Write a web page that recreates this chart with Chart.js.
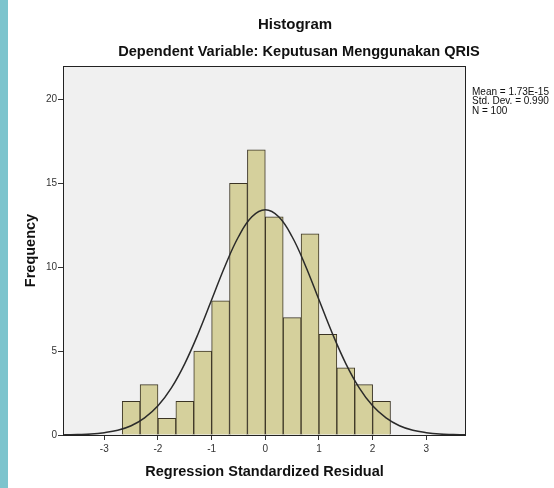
<!DOCTYPE html>
<html>
<head>
<meta charset="utf-8">
<script src="https://cdn.jsdelivr.net/npm/chart.js@4/dist/chart.umd.min.js"></script>
<style>
  html, body { margin: 0; padding: 0; background: #fff; }
  canvas { display: block; }
</style>
</head>
<body>
<canvas id="hist" width="554" height="488"></canvas>
<script>
// histogram bins (centre of each 1/3-wide bin) and counts
const binCenters = [-2.5, -2.1667, -1.8333, -1.5, -1.1667, -0.8333, -0.5, -0.1667,
  0.1667, 0.5, 0.8333, 1.1667, 1.5, 1.8333, 2.1667];
const frequencies = [2, 3, 1, 2, 5, 8, 15, 17, 13, 7, 12, 6, 4, 3, 2];

// normal curve
const curveX = [-3.75, -3.5, -3.25, -3, -2.75, -2.5, -2.25, -2, -1.75, -1.5, -1.25, -1,
  -0.75, -0.5, -0.25, 0, 0.25, 0.5, 0.75, 1, 1.25, 1.5, 1.75, 2, 2.25, 2.5, 2.75, 3,
  3.25, 3.5, 3.75];
const curveY = [0.01, 0.03, 0.06, 0.14, 0.28, 0.55, 1.02, 1.74, 2.81, 4.26, 6.05, 8.06,
  10.08, 11.82, 13.01, 13.43, 13.01, 11.82, 10.08, 8.06, 6.05, 4.26, 2.81, 1.74, 1.02,
  0.55, 0.28, 0.14, 0.06, 0.03, 0.01];

const xTicks = [-3, -2, -1, 0, 1, 2, 3];
const yTicks = [0, 5, 10, 15, 20];
const statsLines = ["Mean = 1.73E-15", "Std. Dev. = 0.990", "N = 100"];

const FONT = "'Liberation Sans', Arial, sans-serif";

const decor = {
  id: "decor",
  beforeDraw(chart) {
    const { ctx, chartArea: a } = chart;
    ctx.save();
    ctx.fillStyle = "#7cc4cd";
    ctx.fillRect(0, 0, 8, chart.height);
    ctx.fillStyle = "#f0f0f0";
    ctx.fillRect(a.left, a.top, a.right - a.left, a.bottom - a.top);
    ctx.restore();
  },
  afterDraw(chart) {
    const { ctx, chartArea: a } = chart;
    ctx.save();
    ctx.strokeStyle = "#222";
    ctx.lineWidth = 1;
    ctx.strokeRect(a.left + 0.5, a.top + 0.5, a.right - a.left - 1, a.bottom - a.top);

    ctx.fillStyle = "#111";
    ctx.textAlign = "center";
    ctx.textBaseline = "middle";
    ctx.font = "bold 15px " + FONT;
    ctx.fillText("Histogram", 295, 25);
    ctx.font = "bold 14.6px " + FONT;
    ctx.fillText("Dependent Variable: Keputusan Menggunakan QRIS", 299, 52);

    ctx.textAlign = "left";
    ctx.font = "10px " + FONT;
    statsLines.forEach((t, i) => ctx.fillText(t, a.right + 6, 92 + i * 9.5));
    ctx.restore();
  }
};

new Chart(document.getElementById("hist"), {
  data: {
    datasets: [
      {
        type: "line",
        data: curveX.map((x, i) => ({ x, y: curveY[i] })),
        borderColor: "#2a2a2a",
        borderWidth: 1.5,
        pointRadius: 0,
        tension: 0.4,
        fill: false,
        order: 0
      },
      {
        type: "bar",
        data: binCenters.map((x, i) => ({ x, y: frequencies[i] })),
        backgroundColor: "#d5d09c",
        borderColor: "#3b3424",
        borderWidth: 1,
        barPercentage: 1,
        categoryPercentage: 1,
        order: 1
      }
    ]
  },
  options: {
    responsive: false,
    animation: false,
    layout: { padding: { left: 10, right: 88, top: 66, bottom: 0 } },
    plugins: {
      legend: { display: false },
      tooltip: { enabled: false }
    },
    scales: {
      x: {
        type: "linear",
        min: -3.77,
        max: 3.74,
        offset: false,
        afterBuildTicks: s => { s.ticks = xTicks.map(v => ({ value: v })); },
        afterFit: s => { s.height = 53; },
        grid: { drawOnChartArea: false, offset: false, tickLength: 5, color: "#333" },
        border: { display: false },
        ticks: { color: "#333", font: { family: FONT, size: 10 }, padding: 3 },
        title: {
          display: true,
          text: "Regression Standardized Residual",
          color: "#111",
          font: { family: FONT, size: 14.5, weight: "bold" },
          padding: { top: 0, bottom: 7 }
        }
      },
      y: {
        min: 0,
        max: 22,
        afterBuildTicks: s => { s.ticks = yTicks.map(v => ({ value: v })); },
        afterFit: s => { s.width = 53; },
        grid: { drawOnChartArea: false, tickLength: 5, color: "#333" },
        border: { display: false },
        ticks: { color: "#333", font: { family: FONT, size: 10 }, padding: 1 },
        title: {
          display: true,
          text: "Frequency",
          color: "#111",
          font: { family: FONT, size: 14.5, weight: "bold" },
          padding: { top: 12, bottom: 0 }
        }
      }
    }
  },
  plugins: [decor]
});
</script>
</body>
</html>
